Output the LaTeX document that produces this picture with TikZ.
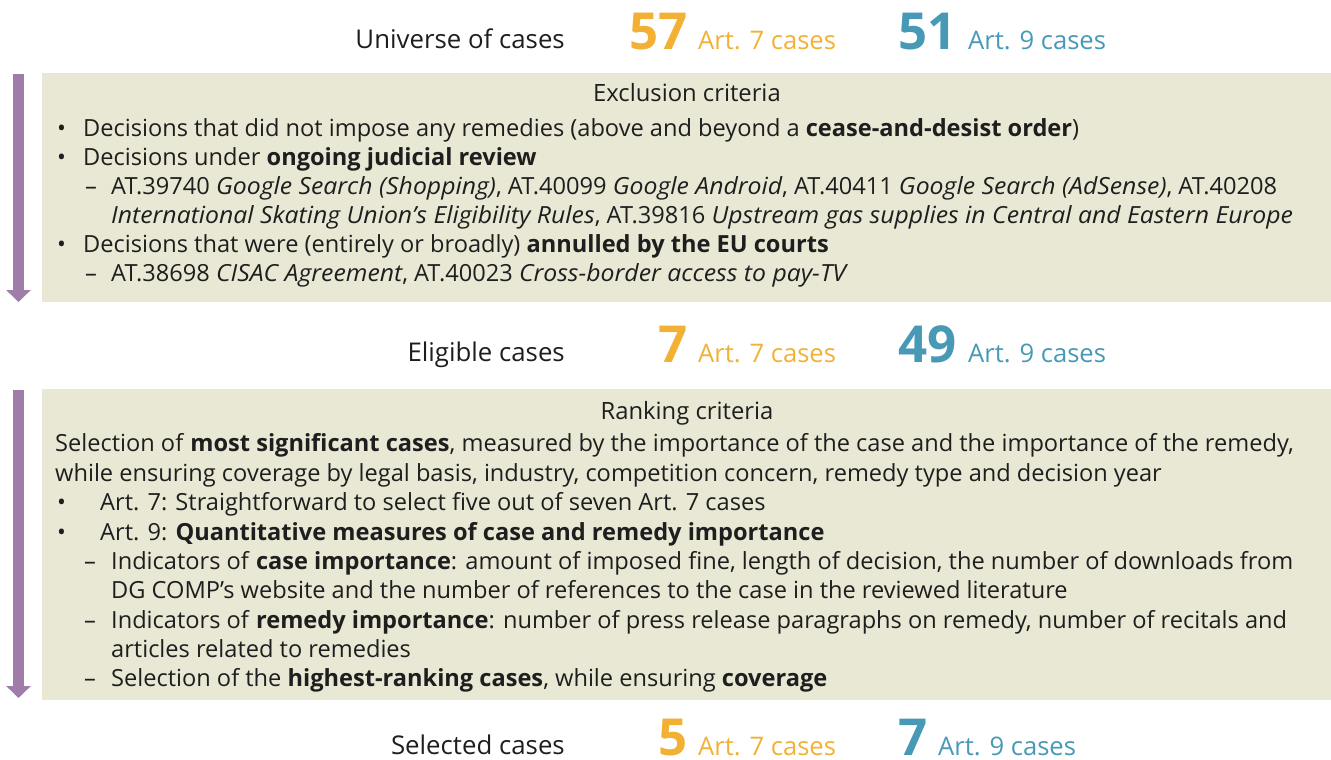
\documentclass[tikz,border=0pt]{standalone}
\usepackage{fontspec}
\setmainfont{Open Sans}[ItalicFeatures={FakeStretch=1.05}]
\usepackage{xcolor}
\usetikzlibrary{arrows.meta}

\definecolor{boxfill}{HTML}{E9E8D5}
\definecolor{flowpurple}{HTML}{A07DA8}
\definecolor{artseven}{HTML}{F2B134}
\definecolor{artnine}{HTML}{4799B6}
\definecolor{bodytext}{HTML}{1E1E1E}

\begin{document}
\begin{tikzpicture}[x=1pt,y=-1pt,
    line/.style={anchor=base west,inner sep=0pt,text=bodytext,font=\fontsize{23.6}{28}\selectfont},
    head/.style={anchor=base,inner sep=0pt,text=bodytext,font=\fontsize{23.8}{28}\selectfont},
    stage/.style={anchor=base east,inner sep=0pt,text=bodytext,font=\fontsize{25.8}{30}\selectfont},
    count/.style={inner sep=0pt,font=\fontsize{51}{56}\bfseries\selectfont},
    unit/.style={anchor=base west,inner sep=0pt,font=\fontsize{25.6}{30}\selectfont},
    flow/.style={flowpurple,line width=11pt,-{Triangle[width=24pt,length=12pt]}}]
	\useasboundingbox (0,0) rectangle (1331,760);

	% stage 1: universe
	\node[stage] (universe) at (565,49) {Universe of cases};
	\node[count,anchor=base east,text=artseven] (u7) at (688,50) {57};
	\node[unit,text=artseven] (u7t) at (698,50) {Art. 7 cases};
	\node[count,anchor=base west,text=artnine] (u9) at (898,50) {51};
	\node[unit,text=artnine] (u9t) at (968,50) {Art. 9 cases};

	% exclusion box
	\fill[boxfill] (42,73) rectangle (1331,302);
	\coordinate (extop) at (18.5,74);
	\coordinate (exbot) at (18.5,302);
	\draw[flow] (extop) -- (exbot);
	\node[head] (exhead) at (687,101) {Exclusion criteria};
	\node[line] (exb1) at (57,136) {•};
	\node[line] (ex1) at (83,136) {Decisions that did not impose any remedies (above and beyond a \textbf{cease-and-desist order})};
	\node[line] (exb2) at (57,165) {•};
	\node[line] (ex2) at (83,165) {Decisions under \textbf{ongoing judicial review}};
	\node[line] (exd1) at (85,194) {–};
	\node[line] (ex3) at (111,194) {AT.39740 \textit{Google Search (Shopping)}, AT.40099 \textit{Google Android}, AT.40411 \textit{Google Search (AdSense)}, AT.40208};
	\node[line] (ex4) at (111,223) {\textit{International Skating Union’s Eligibility Rules}, AT.39816 \textit{Upstream gas supplies in Central and Eastern Europe}};
	\node[line] (exb3) at (57,252) {•};
	\node[line] (ex5) at (83,252) {Decisions that were (entirely or broadly) \textbf{annulled by the EU courts}};
	\node[line] (exd2) at (85,281) {–};
	\node[line] (ex6) at (111,281) {AT.38698 \textit{CISAC Agreement}, AT.40023 \textit{Cross-border access to pay-TV}};

	% stage 2: eligible
	\node[stage] (eligible) at (565,361) {Eligible cases};
	\node[count,anchor=base east,text=artseven] (e7) at (688,362) {7};
	\node[unit,text=artseven] (e7t) at (698,362) {Art. 7 cases};
	\node[count,anchor=base west,text=artnine] (e9) at (898,362) {49};
	\node[unit,text=artnine] (e9t) at (968,362) {Art. 9 cases};

	% ranking box
	\fill[boxfill] (42,389) rectangle (1331,700);
	\coordinate (rktop) at (18.5,390);
	\coordinate (rkbot) at (18.5,698);
	\draw[flow] (rktop) -- (rkbot);
	\node[head] (rkhead) at (687,419) {Ranking criteria};
	\node[line] (rk1) at (55,451) {Selection of \textbf{most significant cases}, measured by the importance of the case and the importance of the remedy,};
	\node[line] (rk2) at (55,481) {while ensuring coverage by legal basis, industry, competition concern, remedy type and decision year};
	\node[line] (rkb1) at (57,510) {•};
	\node[line] (rk3) at (100,510) {Art. 7: Straightforward to select five out of seven Art. 7 cases};
	\node[line] (rkb2) at (57,540) {•};
	\node[line] (rk4) at (100,540) {Art. 9: \textbf{Quantitative measures of case and remedy importance}};
	\node[line] (rkd1) at (84,569) {–};
	\node[line] (rk5) at (111,569) {Indicators of \textbf{case importance}: amount of imposed fine, length of decision, the number of downloads from};
	\node[line] (rk6) at (111,598) {DG COMP’s website and the number of references to the case in the reviewed literature};
	\node[line] (rkd2) at (84,628) {–};
	\node[line] (rk7) at (111,628) {Indicators of \textbf{remedy importance}: number of press release paragraphs on remedy, number of recitals and};
	\node[line] (rk8) at (111,657) {articles related to remedies};
	\node[line] (rkd3) at (84,686) {–};
	\node[line] (rk9) at (111,686) {Selection of the \textbf{highest-ranking cases}, while ensuring \textbf{coverage}};

	% stage 3: selected
	\node[stage] (selected) at (565,754) {Selected cases};
	\node[count,anchor=base east,text=artseven] (s7) at (688,755) {5};
	\node[unit,text=artseven] (s7t) at (698,755) {Art. 7 cases};
	\node[count,anchor=base west,text=artnine] (s9) at (898,755) {7};
	\node[unit,text=artnine] (s9t) at (938,755) {Art. 9 cases};
\end{tikzpicture}
\end{document}
